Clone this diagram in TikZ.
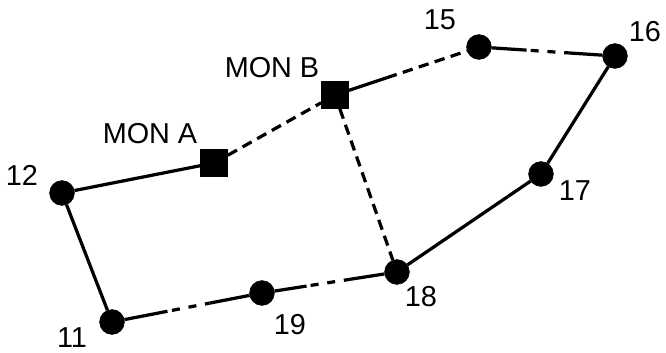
\documentclass[tikz,border=0pt]{standalone}
\usepackage{fontspec}
\setmainfont{Liberation Sans}
\usetikzlibrary{calc}
\tikzset{
  stn/.style={draw,circle,fill=black,minimum size=0.62cm,inner sep=0pt},
  mon/.style={draw,rectangle,fill=black,minimum size=0.68cm,inner sep=0pt},
  lbl/.style={font=\fontsize{20.5}{24}\selectfont,inner sep=0pt},
  link/.style={line width=2.3pt},
  dlink/.style={line width=2.3pt,dash pattern=on 0.26cm off 0.16cm},
  mlink/.style={line width=2.3pt,dash pattern=on 0.2cm off 0.22cm}
}
\begin{document}
\begin{tikzpicture}[x=0.025cm,y=-0.025cm]
\useasboundingbox (0,0) rectangle (666,353);
\node[stn] (n12) at (62,193) {}; \node[stn] (n11) at (112,322) {};
\node[stn] (n19) at (262,293) {}; \node[stn] (n18) at (397,272) {};
\node[stn] (n17) at (541,174) {}; \node[stn] (n16) at (615,56) {};
\node[stn] (n15) at (479,47) {};
\node[mon] (ma) at (214,163) {}; \node[mon] (mb) at (335,95) {};
\node[lbl] (t12) at (22,175) {12}; \node[lbl] (t11) at (72,338) {11};
\node[lbl] (t19) at (290,325) {19}; \node[lbl] (t18) at (421,297) {18};
\node[lbl] (t17) at (575,191) {17}; \node[lbl] (t16) at (645,32) {16};
\node[lbl] (t15) at (440,20) {15};
\node[lbl] (tmb) at (272,68) {MON B}; \node[lbl] (tma) at (150,134) {MON A};
% solid links
\draw[link] (n12)--(ma) (n11)--(n12) (n16)--(n17) (n17)--(n18);
% dashed links
\draw[dlink] (ma)--(mb) (mb)--(n18);
% part solid, part dashed
\draw[link] (mb)--($(mb)!0.36!(n15)$);
\draw[dlink] ($(mb)!0.36!(n15)$)--(n15);
\draw[link] (n15)--($(n15)!0.35!(n16)$) ($(n15)!0.66!(n16)$)--(n16);
\draw[mlink] ($(n15)!0.38!(n16)$)--($(n15)!0.66!(n16)$);
\draw[link] (n19)--($(n19)!0.33!(n18)$) ($(n19)!0.66!(n18)$)--(n18);
\draw[mlink] ($(n19)!0.36!(n18)$)--($(n19)!0.66!(n18)$);
\draw[link] (n11)--($(n11)!0.37!(n19)$) ($(n11)!0.65!(n19)$)--(n19);
\draw[mlink] ($(n11)!0.4!(n19)$)--($(n11)!0.65!(n19)$);
\end{tikzpicture}
\end{document}
